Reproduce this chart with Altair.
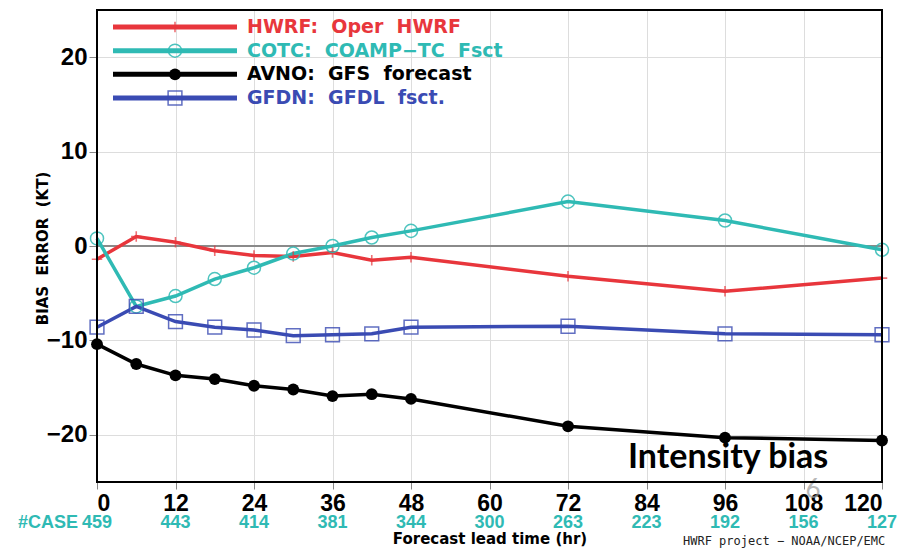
import altair as alt
import pandas as pd

# ---- data ----
hours = [0, 6, 12, 18, 24, 30, 36, 42, 48, 72, 96, 120]
hwrf = [-1.4, 1.0, 0.4, -0.5, -1.0, -1.1, -0.7, -1.5, -1.2, -3.2, -4.8, -3.4]
cotc = [0.8, -6.4, -5.3, -3.5, -2.3, -0.8, 0.0, 0.9, 1.6, 4.7, 2.7, -0.4]
avno = [-10.4, -12.5, -13.7, -14.1, -14.8, -15.2, -15.9, -15.7, -16.2, -19.1, -20.3, -20.6]
gfdn = [-8.6, -6.4, -8.0, -8.6, -8.9, -9.5, -9.4, -9.3, -8.6, -8.5, -9.3, -9.4]

series = ["HWRF", "COTC", "AVNO", "GFDN"]
series_labels = ["HWRF:\u00a0 Oper\u00a0 HWRF", "COTC:\u00a0 COAMP\u2212TC\u00a0 Fsct",
                 "AVNO:\u00a0 GFS\u00a0 forecast", "GFDN:\u00a0 GFDL\u00a0 fsct."]
colors = ["#E8363C", "#2FBAB4", "#000000", "#3A4BB3"]

case_hours = [0, 12, 24, 36, 48, 60, 72, 84, 96, 108, 120]
case_counts = ["459", "443", "414", "381", "344", "300", "263", "223", "192", "156", "127"]

# ---- tables ----
rows = []
for name, vals in zip(series, [hwrf, cotc, avno, gfdn]):
    for h, v in zip(hours, vals):
        rows.append({"series": name, "hour": h, "bias": v})
df = pd.DataFrame(rows)
cases = pd.DataFrame({"hour": case_hours, "n": case_counts})
leg = pd.DataFrame({"series": series, "label": series_labels, "row": [0, 1, 2, 3]})

W, H = 785, 472

X = alt.X("hour:Q", scale=alt.Scale(domain=[0, 120], nice=False),
          axis=alt.Axis(values=list(range(0, 121, 12)), title="Forecast lead time (hr)",
                        labelFont="Liberation Sans", labelFontSize=23, labelFontWeight="bold",
                        labelColor="black", labelPadding=3, tickSize=7,
                        titleFont="DejaVu Sans", titleFontSize=15, titleFontWeight="bold",
                        titleColor="black", titleY=56, titleBaseline="middle"))
Y = alt.Y("bias:Q", scale=alt.Scale(domain=[-25, 25], nice=False),
          axis=alt.Axis(values=[-20, -10, 0, 10, 20], title="BIAS\u00a0 ERROR\u00a0 (KT)",
                        labelFont="Liberation Sans", labelFontSize=24, labelFontWeight="bold",
                        labelColor="black", labelPadding=2, tickSize=8,
                        titleFont="DejaVu Sans", titleFontSize=15, titleFontWeight="bold",
                        titleColor="black", titleX=-55, titleY=238, titleBaseline="middle"))
C = alt.Color("series:N", scale=alt.Scale(domain=series, range=colors), legend=None)

base = alt.Chart(df)
zero = alt.Chart(pd.DataFrame({"bias": [0]})).mark_rule(color="#8a8a8a", strokeWidth=2).encode(y=Y)
lines = base.mark_line(strokeWidth=3.5).encode(x=X, y=Y, color=C, detail="series:N")

plus_path = "M-1,0H1M0,-1V1"


def markers(chart, xenc, yenc):
    p1 = chart.transform_filter(alt.datum.series == "HWRF").mark_point(
        shape=plus_path, size=110, filled=False, strokeWidth=1.6).encode(x=xenc, y=yenc, color=C)
    p2 = chart.transform_filter(alt.datum.series == "COTC").mark_point(
        shape="circle", size=170, filled=False, strokeWidth=1.5, opacity=0.85).encode(x=xenc, y=yenc, color=C)
    p3 = chart.transform_filter(alt.datum.series == "AVNO").mark_point(
        shape="circle", size=140, filled=True, opacity=1).encode(x=xenc, y=yenc, color=C)
    p4 = chart.transform_filter(alt.datum.series == "GFDN").mark_point(
        shape="square", size=190, filled=False, strokeWidth=1.5, opacity=0.8).encode(x=xenc, y=yenc, color=C)
    return [p1, p2, p3, p4]


case_text = alt.Chart(cases).mark_text(font="Liberation Sans", fontSize=18, fontWeight="bold",
                                       color="#2FBAB4", baseline="middle").encode(
    x=X, y=alt.value(513), text="n:N")
case_head = alt.Chart(pd.DataFrame({"t": ["#CASE"]})).mark_text(
    font="Liberation Sans", fontSize=18, fontWeight="bold", color="#2FBAB4",
    align="right", baseline="middle").encode(x=alt.value(-19), y=alt.value(513), text="t:N")

intensity = alt.Chart(pd.DataFrame({"t": ["Intensity bias"]})).mark_text(
    font="Lato", fontSize=34, fontWeight="bold", color="black", align="left",
    baseline="alphabetic").encode(x=alt.value(531), y=alt.value(458), text="t:N")
slide_no = alt.Chart(pd.DataFrame({"t": ["6"]})).mark_text(
    font="Lato", fontSize=26, color="#9a9a9a", opacity=0.7, baseline="middle").encode(
    x=alt.value(716), y=alt.value(480), text="t:N")
footnote = alt.Chart(pd.DataFrame({"t": ["HWRF project \u2212 NOAA/NCEP/EMC"]})).mark_text(
    font="DejaVu Sans Mono", fontSize=12, color="#222", align="left", baseline="middle").encode(
    x=alt.value(586), y=alt.value(531), text="t:N")

frame = alt.Chart(pd.DataFrame({"f": [1]})).mark_rect(
    fill=None, stroke="black", strokeWidth=2).encode(
    x=alt.value(0), x2=alt.value(W), y=alt.value(0), y2=alt.value(H))

main = alt.layer(zero, lines, *markers(base, X, Y), case_text, case_head, intensity, slide_no,
                 footnote, frame)

# ---- legend (inside top-left) ----
YR = alt.Y("row:Q", scale=alt.Scale(domain=[0, 3], range=[17, 88]), axis=None)
lbase = alt.Chart(leg)
leg_lines = lbase.mark_rule(strokeWidth=5).encode(x=alt.value(16), x2=alt.value(140), y=YR, color=C)
leg_text = lbase.mark_text(align="left", baseline="middle", font="DejaVu Sans", fontSize=19,
                           fontWeight="bold").encode(x=alt.value(150), y=YR, text="label:N", color=C)
legend_layer = alt.layer(leg_lines, *markers(lbase, alt.value(78), YR), leg_text)

chart = alt.layer(main, legend_layer).resolve_scale(y="independent").properties(
    width=W, height=H,
    autosize=alt.AutoSizeParams(type="none"),
    padding={"left": 89, "top": 2, "right": 19, "bottom": 67},
).configure_view(stroke="black", strokeWidth=2).configure_axis(
    grid=True, gridColor="#b0b0b0", gridDash=[1, 3], gridWidth=1,
    domainColor="black", domainWidth=2, tickColor="black", tickWidth=2,
).configure(background="white")

chart.save("out.html", embed_options={"renderer": "svg", "actions": False})
